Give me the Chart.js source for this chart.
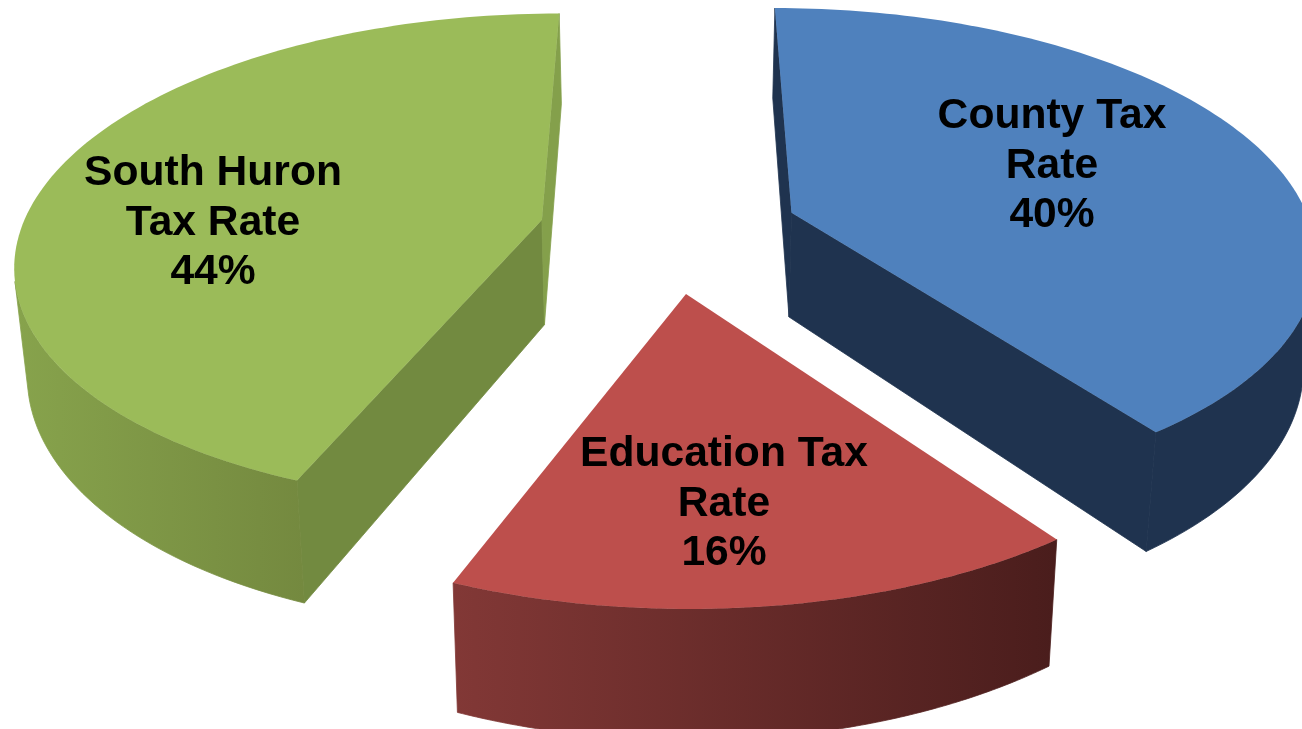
<!DOCTYPE html>
<html>
<head>
<meta charset="utf-8">
<title>Tax Rate</title>
<style>
    html, body { margin: 0; padding: 0; background: #fff; }
    #wrap { width: 1302px; height: 729px; overflow: hidden; }
</style>
<script src="https://cdn.jsdelivr.net/npm/chart.js@4"></script>
</head>
<body>
<div id="wrap"><canvas id="cpie" width="1302" height="729"></canvas></div>
<script>
// chart data, clockwise from 12 o'clock
var categories = [['County Tax', 'Rate'], ['Education Tax', 'Rate'], ['South Huron', 'Tax Rate']];
var percents = [40, 16, 44];

// colours per slice
var topColors = ['#4F81BD', '#BD4F4C', '#9BBB59'];
var rimLeftColors = ['#1F334F', '#823836', '#87A34C'];
var rimRightColors = ['#1F334F', '#4A1D1C', '#74893F'];
var faceStartColors = ['#1F334F', '#823836', '#728A40']; // cut face at the slice's start angle
var faceEndColors = ['#1F334F', '#4A1D1C', '#84A04B'];   // cut face at its end angle

// label centres (middle text line), canvas px
var labelCenters = [[1052, 166], [724, 504], [213, 223]];
var labelFont = 'bold 42.6px "Liberation Sans", Arial, sans-serif';
var labelLineHeight = 49.5;

// camera for the tilted pie, disc radius = 1
var camera = {
    centerX: 669,
    horizonY: -1300,
    focalX: 3290,
    focalY: 9663,
    distance: 6.31,
    thickness: 665,
    floorShrink: 0.98
};

function project(mx, my, floor) {
    var w = camera.distance + my;
    var fx = floor ? camera.focalX * camera.floorShrink : camera.focalX;
    var fy = floor ? camera.focalY + camera.thickness : camera.focalY;
    return { x: camera.centerX + fx * mx / w, y: camera.horizonY + fy / w };
}

// the arc's own angles and offset, turned into disc coordinates
function sliceGeometry(arc) {
    var p = arc.getProps(['startAngle', 'endAngle', 'outerRadius']);
    var mid = (p.startAngle + p.endAngle) / 2;
    var shift = (arc.options.offset / 4) / p.outerRadius;
    return {
        start: p.startAngle,
        end: p.endAngle,
        ox: Math.cos(mid) * shift,
        oy: -Math.sin(mid) * shift
    };
}

function rimPoint(g, angle, floor) {
    return project(g.ox + Math.cos(angle), g.oy - Math.sin(angle), floor);
}

function tracePoints(ctx, points) {
    ctx.beginPath();
    points.forEach(function (pt, i) {
        if (i === 0) {
            ctx.moveTo(pt.x, pt.y);
        } else {
            ctx.lineTo(pt.x, pt.y);
        }
    });
    ctx.closePath();
}

// side = -1 for the start face, 1 for the end face; hidden faces are skipped
function drawFace(ctx, g, angle, color, side) {
    var apex = project(g.ox, g.oy, false);
    var apexFloor = project(g.ox, g.oy, true);
    var rim = rimPoint(g, angle, false);
    var cross = (rim.x - apex.x) * (apexFloor.y - apex.y) - (rim.y - apex.y) * (apexFloor.x - apex.x);
    if (cross * side <= 0) {
        return;
    }
    tracePoints(ctx, [apex, rim, rimPoint(g, angle, true), apexFloor]);
    ctx.fillStyle = color;
    ctx.strokeStyle = color;
    ctx.lineWidth = 0.8;
    ctx.fill();
    ctx.stroke();
}

function drawRim(ctx, g, leftColor, rightColor) {
    var steps = 120;
    var tops = [];
    var floors = [];
    for (var i = 0; i < steps; i++) {
        var a = g.start + (g.end - g.start) * i / steps;
        var b = g.start + (g.end - g.start) * (i + 1) / steps;
        var p = rimPoint(g, a, false);
        var n = rimPoint(g, b, false);
        var q = rimPoint(g, a, true);
        // only the part that faces the viewer
        if ((n.x - p.x) * (q.y - p.y) - (n.y - p.y) * (q.x - p.x) < 0) {
            if (!tops.length) {
                tops.push(p);
                floors.push(q);
            }
            tops.push(n);
            floors.push(rimPoint(g, b, true));
        }
    }
    if (!tops.length) {
        return;
    }
    var xs = tops.concat(floors).map(function (pt) { return pt.x; });
    var gradient = ctx.createLinearGradient(Math.min.apply(null, xs), 0, Math.max.apply(null, xs), 0);
    gradient.addColorStop(0, leftColor);
    gradient.addColorStop(1, rightColor);
    tracePoints(ctx, tops.concat(floors.reverse()));
    ctx.fillStyle = gradient;
    ctx.strokeStyle = gradient;
    ctx.lineWidth = 0.8;
    ctx.fill();
    ctx.stroke();
}

function drawTop(ctx, g, color) {
    var steps = 120;
    var points = [project(g.ox, g.oy, false)];
    for (var i = 0; i <= steps; i++) {
        points.push(rimPoint(g, g.start + (g.end - g.start) * i / steps, false));
    }
    tracePoints(ctx, points);
    ctx.fillStyle = color;
    ctx.fill();
}

var tiltedPie = {
    id: 'tiltedPie',
    beforeDatasetDraw: function (chart, args) {
        var ctx = chart.ctx;
        var arcs = args.meta.data;
        ctx.save();
        arcs.forEach(function (arc, i) {
            var g = sliceGeometry(arc);
            drawFace(ctx, g, g.start, faceStartColors[i], -1);
            drawFace(ctx, g, g.end, faceEndColors[i], 1);
            drawRim(ctx, g, rimLeftColors[i], rimRightColors[i]);
            drawTop(ctx, g, arc.options.backgroundColor);
        });
        ctx.restore();
        return false;
    },
    afterDatasetsDraw: function (chart) {
        var ctx = chart.ctx;
        ctx.save();
        ctx.font = labelFont;
        ctx.fillStyle = '#000';
        ctx.textAlign = 'center';
        ctx.textBaseline = 'middle';
        chart.data.labels.forEach(function (label, i) {
            var lines = label.concat(chart.data.datasets[0].data[i] + '%');
            lines.forEach(function (line, k) {
                ctx.fillText(line, labelCenters[i][0], labelCenters[i][1] + (k - 1) * labelLineHeight);
            });
        });
        ctx.restore();
    }
};

var chartPie = new Chart(document.getElementById('cpie').getContext('2d'), {
    type: 'pie',
    data: {
        labels: categories,
        datasets: [
            {
                data: percents,
                backgroundColor: topColors,
                borderWidth: 0,
                offset: 243
            }
        ]
    },
    options: {
        responsive: false,
        animation: false,
        plugins: {
            legend: { display: false },
            tooltip: { enabled: false }
        }
    },
    plugins: [tiltedPie]
});
</script>
</body>
</html>
